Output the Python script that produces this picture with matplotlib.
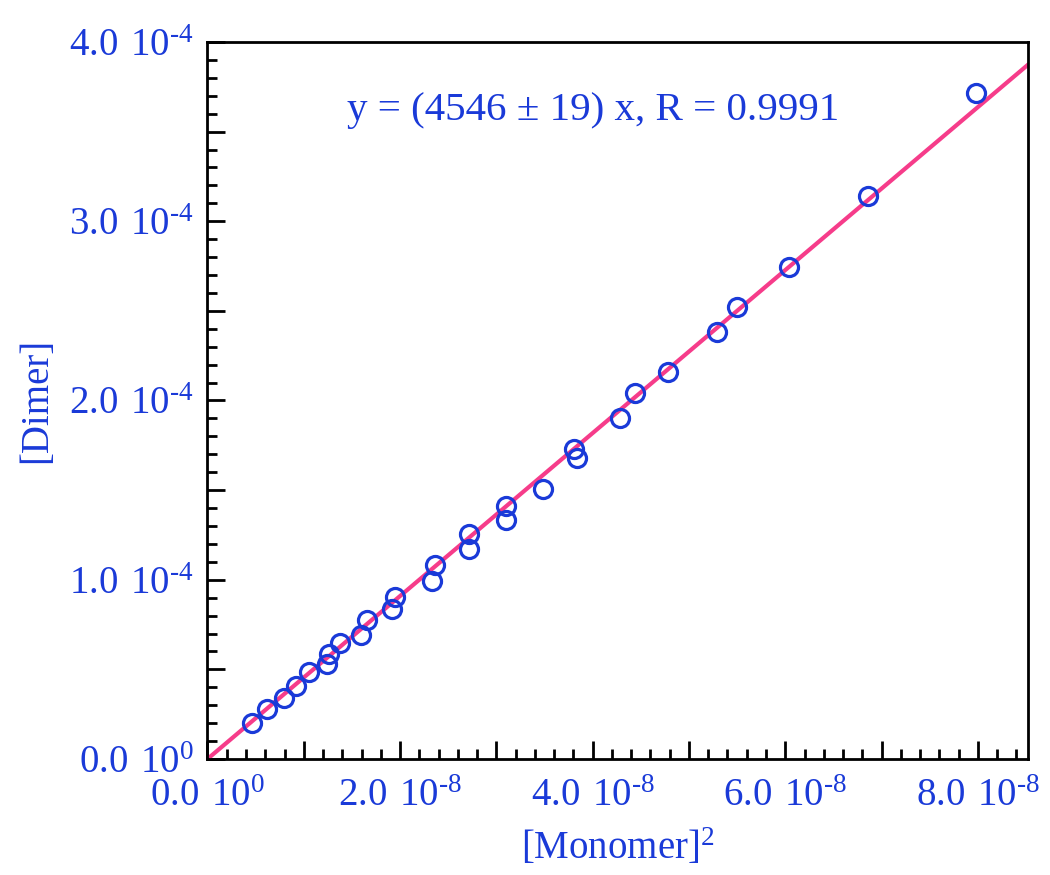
import matplotlib
matplotlib.use("Agg")
import matplotlib.pyplot as plt
import numpy as np
from matplotlib.ticker import MultipleLocator

plt.rcParams['font.family'] = ['Liberation Serif', 'DejaVu Serif']
plt.rcParams['mathtext.fontset'] = 'custom'
plt.rcParams['mathtext.rm'] = 'Liberation Serif'

# data
monomer_sq = np.array([0.465, 0.615, 0.795, 0.916, 1.058, 1.238, 1.265, 1.377, 1.595,
                       1.654, 1.914, 1.948, 2.336, 2.366, 2.717, 2.717, 3.101, 3.101,
                       3.489, 3.811, 3.836, 4.286, 4.442, 4.784, 5.290, 5.498, 6.034,
                       6.855, 7.984]) * 1e-8
dimer = np.array([0.199, 0.279, 0.342, 0.407, 0.487, 0.528, 0.584, 0.649, 0.693,
                  0.775, 0.835, 0.905, 0.993, 1.080, 1.170, 1.254, 1.333, 1.411,
                  1.505, 1.729, 1.678, 1.901, 2.044, 2.159, 2.384, 2.523, 2.746,
                  3.143, 3.717]) * 1e-4
slope = 4546.0

x_ticks = np.arange(0, 9) * 1e-8
x_labels = [r'$\mathregular{0.0\ 10^{0}}$', '', r'$\mathregular{2.0\ 10^{\text{-}8}}$', '',
            r'$\mathregular{4.0\ 10^{\text{-}8}}$', '', r'$\mathregular{6.0\ 10^{\text{-}8}}$', '',
            r'$\mathregular{8.0\ 10^{\text{-}8}}$']
y_ticks = np.arange(0, 9) * 0.5e-4
y_labels = [r'$\mathregular{0.0\ 10^{0}}$', '', r'$\mathregular{1.0\ 10^{\text{-}4}}$', '',
            r'$\mathregular{2.0\ 10^{\text{-}4}}$', '', r'$\mathregular{3.0\ 10^{\text{-}4}}$', '',
            r'$\mathregular{4.0\ 10^{\text{-}4}}$']

blue = '#1a3ad8'
pink = '#f63c8a'

fig = plt.figure(figsize=(10.5, 8.75), dpi=100)
ax = fig.add_axes([0.1976, 0.1326, 0.7814, 0.8194])

xmax = 8.52e-8
xf = np.linspace(0, xmax, 100)
ax.plot(xf, slope * xf, color=pink, lw=3, zorder=2)
ax.plot(monomer_sq, dimer, 'o', mfc='none', mec=blue, mew=2.3, ms=13, zorder=3)

ax.set_xlim(0, xmax)
ax.set_ylim(0, 4e-4)
ax.set_xticks(x_ticks)
ax.set_xticklabels(x_labels)
ax.set_yticks(y_ticks)
ax.set_yticklabels(y_labels)
ax.xaxis.set_minor_locator(MultipleLocator(0.2e-8))
ax.yaxis.set_minor_locator(MultipleLocator(0.1e-4))

ax.tick_params(which='both', direction='in', top=False, right=False, width=2,
               labelsize=28, labelcolor=blue)
ax.tick_params(axis='x', pad=14)
ax.tick_params(axis='y', pad=10)
ax.tick_params(which='major', length=13)
ax.tick_params(which='minor', length=7)
for s in ax.spines.values():
    s.set_linewidth(2)

ax.set_xlabel(r'$\mathregular{[Monomer]^{2}}$', fontsize=28, color=blue, labelpad=9)
ax.set_ylabel('[Dimer]', fontsize=28, color=blue, labelpad=10)

ax.text(0.17, 0.905, u'y = (4546 \u00b1 19) x, R = 0.9991', transform=ax.transAxes,
        fontsize=29.5, color=blue, ha='left', va='center')

fig.savefig('out.png', dpi=100)
